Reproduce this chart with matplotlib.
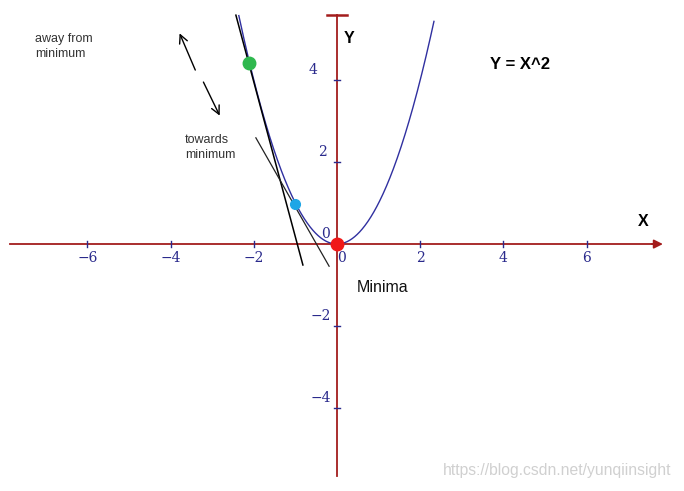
import numpy as np
import matplotlib.pyplot as plt
from matplotlib.patches import FancyArrowPatch

# values
xticks = [-6, -4, -2, 2, 4, 6]
yticks = [-4, -2, 2, 4]
ylab_x = [-0.38, -0.38, -0.36, -0.58]   # centres of the y tick labels
pts_x = [-2.12, -1.02, 0.0]
pts_y = [4.41, 0.98, 0.0]
pts_col = ['#2fb84e', '#1ea6e6', '#f01818']
pts_size = [9, 7, 9]
tan1_x = [-2.43, -0.82]   # tangent through the green point
tan1_y = [5.58, -0.51]
tan2_x = [-1.95, -0.19]   # tangent through the blue point
tan2_y = [2.59, -0.54]

axis_col = '#a31c1c'
num_col = '#2a2a8c'
curve_col = '#3030a0'

fig = plt.figure(figsize=(6.84, 4.91), dpi=100)
ax = fig.add_axes([0, 0, 1, 1])
ax.set_xlim(-8.10, 8.34)
ax.set_ylim(-6.02, 5.95)
ax.axis('off')

# axes
ax.plot([-7.86, 7.75], [0, 0], color=axis_col, lw=1.3, zorder=1)
ax.add_patch(FancyArrowPatch((7.5, 0), (7.9, 0), arrowstyle='-|>', mutation_scale=13,
                             color=axis_col, lw=1.3, zorder=1))
ax.plot([0, 0], [-5.66, 5.58], color=axis_col, lw=1.3, zorder=1)
ax.plot([-0.25, 0.25], [5.58, 5.58], color=axis_col, lw=1.8, zorder=1)

for t in xticks:
    ax.plot([t, t], [-0.07, 0.07], color=num_col, lw=1, zorder=2)
    ax.text(t, -0.34, '\u2212%d' % -t if t < 0 else str(t), color=num_col,
            fontsize=10, family='DejaVu Serif', ha='center', va='center')
ax.text(0.1, -0.34, '0', color=num_col, fontsize=10, family='DejaVu Serif',
        ha='center', va='center')
for t, lx in zip(yticks, ylab_x):
    ax.plot([-0.07, 0.07], [t, t], color=num_col, lw=1, zorder=2)
    ax.text(lx, t + 0.25, '\u2212%d' % -t if t < 0 else str(t), color=num_col,
            fontsize=10, family='DejaVu Serif', ha='center', va='center')
ax.text(-0.27, 0.24, '0', color=num_col, fontsize=10, family='DejaVu Serif',
        ha='center', va='center')

# y = x^2
xs = np.linspace(-2.36, 2.33, 400)
ax.plot(xs, xs**2, color=curve_col, lw=1, zorder=3)

ax.plot(tan1_x, tan1_y, color='black', lw=1.1, zorder=4)
ax.plot(tan2_x, tan2_y, color='#222222', lw=0.9, zorder=4)

for x, y, c, s in zip(pts_x, pts_y, pts_col, pts_size):
    ax.plot(x, y, 'o', color=c, ms=s, mec=c, zorder=5)

# direction arrows
ax.annotate('', xy=(-3.81, 5.2), xytext=(-3.38, 4.18),
            arrowprops=dict(arrowstyle='->', color='black', lw=1, mutation_scale=15))
ax.annotate('', xy=(-2.79, 3.07), xytext=(-3.24, 4.01),
            arrowprops=dict(arrowstyle='->', color='black', lw=1, mutation_scale=15))

ax.text(-7.26, 5.15, 'away from\nminimum', fontsize=9, color='#333333',
        family='Liberation Sans', va='top', ha='left', linespacing=1.3)
ax.text(-3.65, 2.68, 'towards\nminimum', fontsize=9, color='#333333',
        family='Liberation Sans', va='top', ha='left', linespacing=1.3)
ax.text(3.68, 4.37, 'Y = X^2', fontsize=12, weight='bold', family='Liberation Sans',
        va='center', ha='left')
ax.text(0.17, 5.02, 'Y', fontsize=11.5, weight='bold', family='Liberation Sans',
        va='center', ha='left')
ax.text(7.24, 0.54, 'X', fontsize=11.5, weight='bold', family='Liberation Sans',
        va='center', ha='left')
ax.text(0.48, -1.05, 'Minima', fontsize=11.5, family='Liberation Sans',
        va='center', ha='left', color='#111111')
ax.text(2.55, -5.51, 'https://blog.csdn.net/yunqiinsight', fontsize=11.3,
        family='Liberation Sans', color='#d0d0d0', va='center', ha='left')

fig.savefig('out.png', dpi=100)
